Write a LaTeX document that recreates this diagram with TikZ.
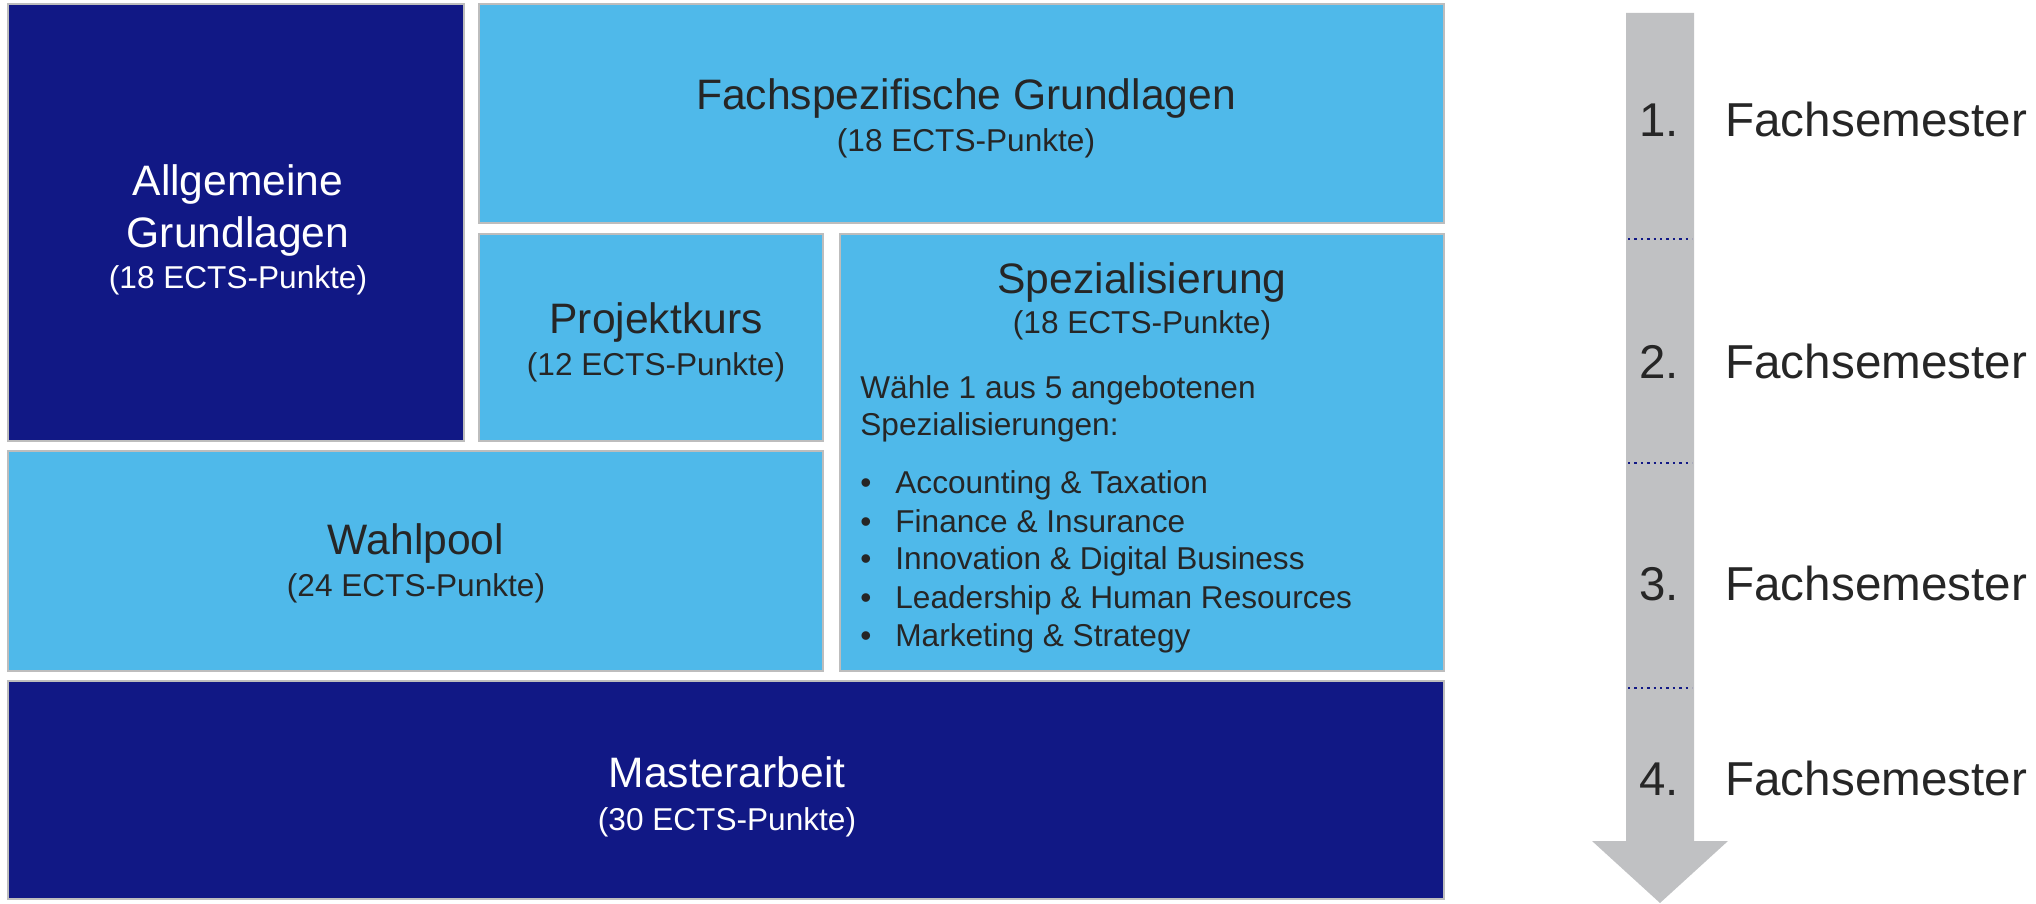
\documentclass[tikz,border=0pt]{standalone}
\usepackage{fontspec}
\setmainfont{Liberation Sans}
\definecolor{navy}{HTML}{111885}
\definecolor{sky}{HTML}{4FB9EA}
\definecolor{edge}{HTML}{BDBDBD}
\definecolor{arrowgray}{HTML}{C0C1C3}
\definecolor{ink}{HTML}{262626}
\begin{document}
\begin{tikzpicture}[x=0.5pt,y=-0.5pt,
  darkbox/.style={fill=navy,draw=edge,line width=0.8pt},
  lightbox/.style={fill=sky,draw=edge,line width=0.8pt},
  big/.style={font=\fontsize{21.3}{25}\selectfont,inner sep=0pt,anchor=base},
  small/.style={font=\fontsize{15.8}{19}\selectfont,inner sep=0pt,anchor=base},
  lefttxt/.style={font=\fontsize{15.8}{19}\selectfont,inner sep=0pt,anchor=base west,text=ink},
  semnum/.style={font=\fontsize{23.7}{28}\selectfont,inner sep=0pt,anchor=base east,text=ink},
  semtxt/.style={font=\fontsize{23.8}{28}\selectfont,inner sep=0pt,anchor=base west,text=ink},
  divider/.style={navy,line width=1.3pt,dash pattern=on 1.2pt off 2pt}]
\useasboundingbox (0,0) rectangle (2036,904);
% boxes
\draw[darkbox] (8,4) rectangle (464,441);
\draw[lightbox] (479,4) rectangle (1444,223);
\draw[lightbox] (479,234) rectangle (823,441);
\draw[lightbox] (840,234) rectangle (1444,671);
\draw[lightbox] (8,451) rectangle (823,671);
\draw[darkbox] (8,681) rectangle (1444,899);
% Allgemeine Grundlagen
\node[big,text=white] (ag1) at (238,196) {Allgemeine};
\node[big,text=white] (ag2) at (238,247) {Grundlagen};
\node[small,text=white] (ag3) at (238,288) {(18 ECTS-Punkte)};
% Fachspezifische Grundlagen
\node[big,text=ink] (fg1) at (966,110) {Fachspezifische Grundlagen};
\node[small,text=ink] (fg2) at (966,152) {(18 ECTS-Punkte)};
% Projektkurs
\node[big,text=ink] (pk1) at (656,333) {Projektkurs};
\node[small,text=ink] (pk2) at (656,375) {(12 ECTS-Punkte)};
% Spezialisierung
\node[big,text=ink] (sp1) at (1142,293) {Spezialisierung};
\node[small,text=ink] (sp2) at (1142,333) {(18 ECTS-Punkte)};
\node[lefttxt] (sp3) at (860,398) {Wähle 1 aus 5 angebotenen};
\node[lefttxt] (sp4) at (860,435) {Spezialisierungen:};
\foreach \y/\t [count=\i] in {493/Accounting \& Taxation,532/Finance \& Insurance,569/Innovation \& Digital Business,608/Leadership \& Human Resources,646/Marketing \& Strategy}{
  \node[lefttxt] (b\i) at (860,\y) {•};
  \node[lefttxt] (it\i) at (895,\y) {\t};
}
% Wahlpool
\node[big,text=ink] (wp1) at (416,554) {Wahlpool};
\node[small,text=ink] (wp2) at (416,596) {(24 ECTS-Punkte)};
% Masterarbeit
\node[big,text=white] (ma1) at (727,787) {Masterarbeit};
\node[small,text=white] (ma2) at (727,830) {(30 ECTS-Punkte)};
% semester arrow
\fill[arrowgray] (1626,13) -- (1694,13) -- (1694,841) -- (1728,841) -- (1660,903) -- (1592,841) -- (1626,841) -- cycle;
\foreach \y [count=\i] in {239,463,688}{
  \coordinate (dl\i) at (1628,\y);
  \coordinate (dr\i) at (1692,\y);
  \draw[divider] (dl\i) -- (dr\i);
}
\foreach \y/\n in {137/1,378/2,600/3,795/4}{
  \node[semnum] (n\n) at (1679,\y) {\n.};
  \node[semtxt] (s\n) at (1725,\y) {Fachsemester};
}
\end{tikzpicture}
\end{document}
